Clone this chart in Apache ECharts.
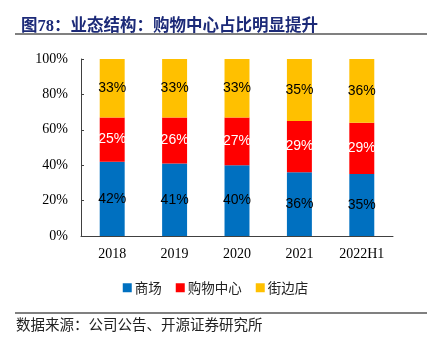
<!DOCTYPE html>
<html>
<head>
<meta charset="utf-8">
<style>html,body{margin:0;padding:0;background:#fff;}#c{width:431px;height:338px;}</style>
<script src="https://cdn.jsdelivr.net/npm/echarts@6/dist/echarts.min.js"></script>
</head>
<body>
<div id="c"></div>
<script>
var categories = ['2018', '2019', '2020', '2021', '2022H1'];
var mallValues = [42, 41, 40, 36, 35];
var centerValues = [25, 26, 27, 29, 29];
var streetValues = [33, 33, 33, 35, 36];
var yTicks = [0, 20, 40, 60, 80, 100];
var seriesNames = ['商场', '购物中心', '街边店'];

var chart = echarts.init(document.getElementById('c'));
function mk(name, data, color, labelColor) {
  return {
    name: name, type: 'bar', stack: 'a', data: data, barWidth: '40%',
    itemStyle: { color: color },
    label: { show: true, position: 'inside', formatter: '{c}%', color: labelColor,
      fontFamily: 'Liberation Sans', fontSize: 14 }
  };
}
chart.setOption({
  animation: false,
  title: {
    text: '图78：业态结构：购物中心占比明显提升',
    left: 16, top: 13,
    textStyle: { fontFamily: 'Liberation Serif, "Noto Sans CJK SC"', fontWeight: 'bold', fontSize: 16.5, color: '#1c2a78' }
  },
  graphic: [
    { type: 'line', shape: { x1: 15, y1: 34, x2: 427, y2: 34 }, style: { stroke: '#808080', lineWidth: 2 } },
    { type: 'line', shape: { x1: 15, y1: 313, x2: 427, y2: 313 }, style: { stroke: '#808080', lineWidth: 2 } },
    { type: 'text', left: 16, top: 317, style: { text: '数据来源：公司公告、开源证券研究所', font: '14.5px "Noto Sans CJK SC"', fill: '#222' } }
  ],
  legend: {
    data: seriesNames, top: 276, left: 'center',
    itemWidth: 9, itemHeight: 9, itemGap: 14,
    icon: 'rect',
    textStyle: { fontFamily: '"Noto Sans CJK SC"', fontSize: 13.5, color: '#222', padding: [0, 0, 0, -2] }
  },
  grid: { left: 81, right: 38, top: 59, bottom: 102 },
  xAxis: {
    type: 'category', data: categories,
    axisLine: { lineStyle: { color: '#404040' } },
    axisTick: { inside: true, length: 4, lineStyle: { color: '#404040' } },
    axisLabel: { fontFamily: 'Liberation Serif', fontSize: 14, color: '#000', margin: 11 }
  },
  yAxis: {
    type: 'value', min: yTicks[0], max: yTicks[yTicks.length - 1], interval: 20,
    axisLine: { show: true, lineStyle: { color: '#404040' } },
    axisTick: { show: true, inside: true, length: 3, lineStyle: { color: '#404040' } },
    splitLine: { show: false },
    axisLabel: { formatter: '{value}%', fontFamily: 'Liberation Serif', fontSize: 14, color: '#000', margin: 13 }
  },
  series: [
    mk(seriesNames[0], mallValues, '#0070c0', '#000'),
    mk(seriesNames[1], centerValues, '#ff0000', '#fff'),
    mk(seriesNames[2], streetValues, '#ffc000', '#000')
  ]
});
</script>
</body>
</html>
